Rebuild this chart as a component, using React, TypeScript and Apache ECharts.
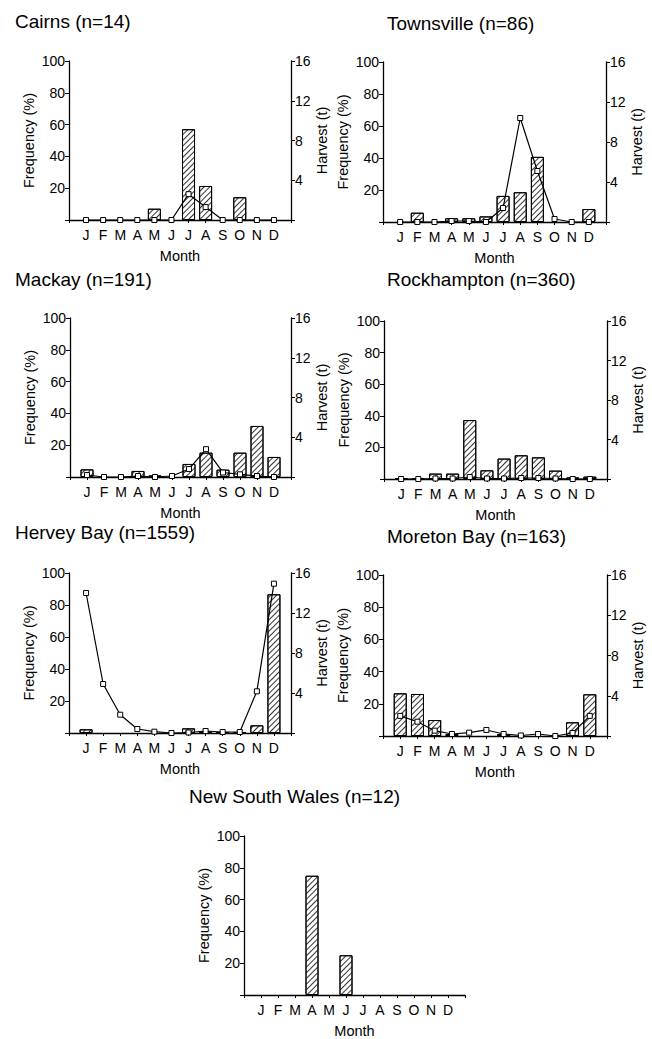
import React, { useEffect, useRef } from "react";
import * as echarts from "echarts";

const months = ["J", "F", "M", "A", "M", "J", "J", "A", "S", "O", "N", "D"];

const cairnsFreq = [0, 0, 0, 0, 7.1, 0, 57.1, 21.4, 0, 14.3, 0, 0];
const cairnsHarvest = [0, 0, 0, 0, 0, 0, 2.6, 1.3, 0, 0, 0, 0];

const townsvilleFreq = [0, 5.8, 0, 2.3, 2.3, 3.5, 16.3, 18.6, 40.7, 0, 0, 8.1];
const townsvilleHarvest = [0, 0, 0, 0.1, 0.1, 0, 1.4, 10.4, 5.1, 0.3, 0, 0];

const mackayFreq = [4.8, 0, 0, 3.8, 1, 0, 8.2, 15.3, 4.6, 15.3, 32.1, 12.6];
const mackayHarvest = [0.2, 0, 0, 0.1, 0, 0.1, 0.8, 2.8, 0.45, 0.27, 0.1, 0];

const rockhamptonFreq = [0.5, 0.5, 3.4, 3.4, 37.3, 5.5, 12.9, 15, 13.7, 5.3, 1, 1.5];
const rockhamptonHarvest = [0, 0, 0.05, 0.05, 0.2, 0.05, 0.05, 0.1, 0.1, 0.05, 0, 0];

const herveyFreq = [2.3, 0, 0, 0, 0, 0, 2.9, 1, 0.5, 0.5, 4.8, 86.7];
const herveyHarvest = [14.0, 4.9, 1.83, 0.4, 0.13, 0, 0.05, 0.2, 0.1, 0.1, 4.17, 14.93];

const moretonFreq = [26.5, 26.1, 9.9, 1.2, 0, 0, 1.2, 0, 0, 0, 8.5, 25.9];
const moretonHarvest = [2.0, 1.42, 0.53, 0.2, 0.33, 0.6, 0.2, 0.05, 0.2, 0, 0.3, 2.0];

const nswFreq = [0, 0, 0, 75, 0, 25, 0, 0, 0, 0, 0, 0];

const freqTicks = { min: 0, max: 100, interval: 20 };
const harvestTicks = { min: 0, max: 16, interval: 4 };

const FONT = "'Liberation Sans', Arial, Helvetica, sans-serif";

type Panel = {
  title: string;
  tx: number;
  ty: number;
  left: number;
  right: number;
  top: number;
  bottom: number;
  freq: number[];
  harvest?: number[];
};

const panels: Panel[] = [
  { title: "Cairns (n=14)", tx: 15, ty: 12, left: 69, right: 291, top: 61, bottom: 220, freq: cairnsFreq, harvest: cairnsHarvest },
  { title: "Townsville (n=86)", tx: 387, ty: 14, left: 383, right: 606, top: 62, bottom: 222, freq: townsvilleFreq, harvest: townsvilleHarvest },
  { title: "Mackay (n=191)", tx: 15, ty: 270, left: 70, right: 291, top: 318, bottom: 477, freq: mackayFreq, harvest: mackayHarvest },
  { title: "Rockhampton (n=360)", tx: 387, ty: 270, left: 384, right: 607, top: 321, bottom: 479, freq: rockhamptonFreq, harvest: rockhamptonHarvest },
  { title: "Hervey Bay (n=1559)", tx: 15, ty: 523, left: 69, right: 291, top: 573, bottom: 733, freq: herveyFreq, harvest: herveyHarvest },
  { title: "Moreton Bay (n=163)", tx: 387, ty: 527, left: 383, right: 607, top: 575, bottom: 736, freq: moretonFreq, harvest: moretonHarvest },
  { title: "New South Wales (n=12)", tx: 189, ty: 787, left: 244, right: 465, top: 836, bottom: 996, freq: nswFreq },
];

function buildOption() {
  const grid: any[] = [];
  const xAxis: any[] = [];
  const yAxis: any[] = [];
  const series: any[] = [];
  const graphic: any[] = [];
  const axisLineStyle = { color: "#000", width: 1.3 };
  const labelStyle = { color: "#000", fontSize: 14, fontFamily: FONT };
  const nameStyle = { color: "#000", fontSize: 14.5, fontFamily: FONT };

  panels.forEach((p, i) => {
    grid.push({ left: p.left, top: p.top, width: p.right - p.left, height: p.bottom - p.top, containLabel: false });
    graphic.push({
      type: "text",
      left: p.tx,
      top: p.ty,
      style: { text: p.title, fill: "#000", font: `19px ${FONT}` },
    });
    xAxis.push({
      type: "value",
      gridIndex: i,
      min: 0,
      max: 13,
      interval: 1,
      axisLine: { show: true, onZero: false, lineStyle: axisLineStyle },
      axisTick: { show: true, length: 3, lineStyle: { color: "#000", width: 1 } },
      axisLabel: {
        ...labelStyle,
        margin: 8,
        showMinLabel: true,
        showMaxLabel: true,
        formatter: (v: number) => (v >= 1 && v <= 12 ? months[v - 1] : ""),
      },
      splitLine: { show: false },
      name: "Month",
      nameLocation: "middle",
      nameGap: 28,
      nameTextStyle: nameStyle,
    });
    const leftIdx = yAxis.length;
    yAxis.push({
      type: "value",
      gridIndex: i,
      position: "left",
      ...freqTicks,
      axisLine: { show: true, lineStyle: axisLineStyle },
      axisTick: { show: true, length: 4, lineStyle: { color: "#000", width: 1 } },
      axisLabel: { ...labelStyle, margin: 4, formatter: (v: number) => (v === 0 ? "" : String(v)) },
      splitLine: { show: false },
      name: "Frequency (%)",
      nameLocation: "middle",
      nameGap: 33,
      nameRotate: 90,
      nameTextStyle: nameStyle,
    });
    series.push({
      type: "bar",
      xAxisIndex: i,
      yAxisIndex: leftIdx,
      barWidth: 13,
      data: p.freq.map((v, k) => [k + 1, v]).filter((d) => d[1] > 0),
      itemStyle: {
        color: "#fff",
        borderColor: "#000",
        borderWidth: 1,
        decal: {
          symbol: "rect",
          symbolSize: 1,
          symbolKeepAspect: false,
          color: "#333",
          backgroundColor: "#fff",
          dashArrayX: [1, 0],
          dashArrayY: [0.8, 2.4],
          rotation: -Math.PI / 4,
        },
      },
      z: 2,
    });
    if (p.harvest) {
      const rightIdx = yAxis.length;
      yAxis.push({
        type: "value",
        gridIndex: i,
        position: "right",
        ...harvestTicks,
        axisLine: { show: true, lineStyle: axisLineStyle },
        axisTick: { show: true, length: 4, lineStyle: { color: "#000", width: 1 } },
        axisLabel: { ...labelStyle, margin: 4, formatter: (v: number) => (v === 0 ? "" : String(v)) },
        splitLine: { show: false },
        name: "Harvest (t)",
        nameLocation: "middle",
        nameGap: 22,
        nameRotate: 90,
        nameTextStyle: nameStyle,
      });
      series.push({
        type: "line",
        xAxisIndex: i,
        yAxisIndex: rightIdx,
        data: p.harvest.map((v, k) => [k + 1, v]),
        symbol: "rect",
        symbolSize: 5,
        showAllSymbol: true,
        lineStyle: { color: "#000", width: 1.2 },
        itemStyle: { color: "#fff", borderColor: "#000", borderWidth: 1 },
        z: 3,
      });
    }
  });

  return {
    animation: false,
    backgroundColor: "#fff",
    aria: { enabled: true, decal: { show: true } },
    grid,
    xAxis,
    yAxis,
    series,
    graphic,
  };
}

export default function App() {
  const ref = useRef<HTMLDivElement>(null);
  useEffect(() => {
    document.body.style.margin = "0";
    if (!ref.current) return;
    const chart = echarts.init(ref.current, undefined, { renderer: "svg" });
    chart.setOption(buildOption() as any);
    return () => chart.dispose();
  }, []);
  return <div ref={ref} style={{ width: 652, height: 1039 }} />;
}
